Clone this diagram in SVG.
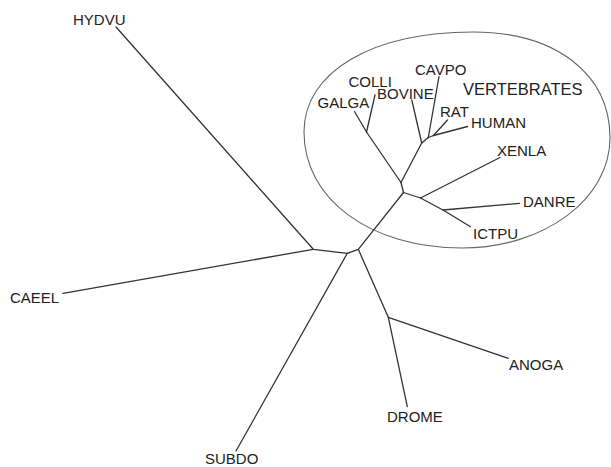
<svg xmlns="http://www.w3.org/2000/svg" width="611" height="467" viewBox="0 0 611 467">
<style>
.bg{fill:#ffffff}
.lbl{font-family:"Liberation Sans",Arial,sans-serif;font-size:15px;fill:#222222}
.big{font-size:16.5px}
.br{stroke:#333333;stroke-width:1.3;fill:none;stroke-linecap:round;stroke-linejoin:round}
.ell{stroke:#666666;stroke-width:1.1;fill:none}
</style>
<rect class="bg" x="0" y="0" width="611" height="467"/>
<g id="vertebrates-group">
<path class="ell" d="M304,132 C304,72 372,32 473,32 C556,32 610,74 610,138 C610,199 544,248 462,248 C370,248 304,199 304,132 Z"/>
<text class="lbl big" x="463" y="95">VERTEBRATES</text>
</g>
<g id="connectors">
<polyline class="br" points="116,27 313.3,249.3 347.3,253.3 358.3,249.3 403.5,192.5"/>
<line class="br" x1="313.3" y1="249.3" x2="63" y2="293.3"/>
<line class="br" x1="347.3" y1="253.3" x2="236" y2="451"/>
<line class="br" x1="358.3" y1="249.3" x2="388.3" y2="317.3"/>
<line class="br" x1="388.3" y1="317.3" x2="508.3" y2="358.3"/>
<line class="br" x1="388.3" y1="317.3" x2="407.3" y2="406.7"/>
<line class="br" x1="403.5" y1="192.5" x2="401" y2="182.5"/>
<line class="br" x1="401" y1="182.5" x2="366.5" y2="132"/>
<line class="br" x1="366.5" y1="132" x2="354.5" y2="111.5"/>
<line class="br" x1="366.5" y1="132" x2="375" y2="95"/>
<line class="br" x1="401" y1="182.5" x2="421.7" y2="143"/>
<line class="br" x1="421.7" y1="143" x2="411.8" y2="100"/>
<line class="br" x1="421.7" y1="143" x2="428.3" y2="137.5"/>
<line class="br" x1="428.3" y1="137.5" x2="439" y2="76.5"/>
<line class="br" x1="428.3" y1="137.5" x2="433.5" y2="135.5"/>
<line class="br" x1="433.5" y1="135.5" x2="447.5" y2="120"/>
<line class="br" x1="433.5" y1="135.5" x2="467.5" y2="126.5"/>
<line class="br" x1="403.5" y1="192.5" x2="420.5" y2="198"/>
<line class="br" x1="420.5" y1="198" x2="500" y2="157.5"/>
<line class="br" x1="420.5" y1="198" x2="443" y2="210"/>
<line class="br" x1="443" y1="210" x2="519.5" y2="203.3"/>
<line class="br" x1="443" y1="210" x2="470.5" y2="226.7"/>
</g>
<g id="HYDVU"><text class="lbl" x="73" y="25">HYDVU</text></g>
<g id="CAEEL"><text class="lbl" x="10" y="303">CAEEL</text></g>
<g id="SUBDO"><text class="lbl" x="205" y="464">SUBDO</text></g>
<g id="DROME"><text class="lbl" x="387" y="421.5">DROME</text></g>
<g id="ANOGA"><text class="lbl" x="509" y="370">ANOGA</text></g>
<g id="ICTPU"><text class="lbl" x="473" y="238.5">ICTPU</text></g>
<g id="DANRE"><text class="lbl" x="523" y="207">DANRE</text></g>
<g id="XENLA"><text class="lbl" x="497" y="155.5">XENLA</text></g>
<g id="HUMAN"><text class="lbl" x="471" y="128.3">HUMAN</text></g>
<g id="RAT"><text class="lbl" x="440" y="117.3">RAT</text></g>
<g id="CAVPO"><text class="lbl" x="415" y="74.5">CAVPO</text></g>
<g id="BOVINE"><text class="lbl" x="377" y="99">BOVINE</text></g>
<g id="COLLI"><text class="lbl" x="348.5" y="87.3">COLLI</text></g>
<g id="GALGA"><text class="lbl" x="317.5" y="108.3">GALGA</text></g>
</svg>
